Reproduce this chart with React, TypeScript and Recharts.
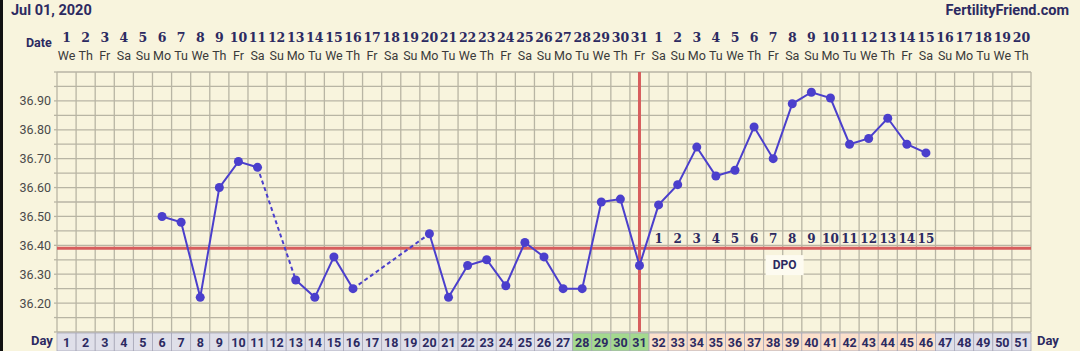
import { ComposedChart, Line, XAxis, YAxis, CartesianGrid, ReferenceLine, ReferenceDot } from 'recharts'

// cycle days shown on the chart
const cycleDays = [
  1, 2, 3, 4, 5, 6, 7, 8, 9, 10, 11, 12, 13, 14, 15, 16, 17, 18, 19, 20, 21, 22, 23, 24, 25, 26,
  27, 28, 29, 30, 31, 32, 33, 34, 35, 36, 37, 38, 39, 40, 41, 42, 43, 44, 45, 46, 47, 48, 49, 50, 51,
]

// calendar date for each cycle day (Jul 1 .. Aug 20)
const dateLabels = [
  '1', '2', '3', '4', '5', '6', '7', '8', '9', '10', '11', '12', '13', '14', '15', '16', '17', '18',
  '19', '20', '21', '22', '23', '24', '25', '26', '27', '28', '29', '30', '31', '1', '2', '3', '4',
  '5', '6', '7', '8', '9', '10', '11', '12', '13', '14', '15', '16', '17', '18', '19', '20',
]

const weekdays = ['We', 'Th', 'Fr', 'Sa', 'Su', 'Mo', 'Tu']

// BBT readings, null = no temp recorded
const temps: (number | null)[] = [
  null, null, null, null, null,
  36.5, 36.48, 36.22, 36.6, 36.69, 36.67,
  null,
  36.28, 36.22, 36.36, 36.25,
  null, null, null,
  36.44, 36.22, 36.33, 36.35, 36.26, 36.41, 36.36, 36.25, 36.25, 36.55, 36.56, 36.33,
  36.54, 36.61, 36.74, 36.64, 36.66, 36.81, 36.7, 36.89, 36.93, 36.91, 36.75, 36.77, 36.84, 36.75, 36.72,
  null, null, null, null, null,
]

// gaps bridged with a dashed line
const gaps = [
  [11, 13],
  [16, 20],
]

const fertileDays = [28, 29, 30, 31]
const lutealDays = [32, 33, 34, 35, 36, 37, 38, 39, 40, 41, 42, 43, 44, 45, 46]
const dpoLabels = ['1', '2', '3', '4', '5', '6', '7', '8', '9', '10', '11', '12', '13', '14', '15']

const coverline = 36.39
const ovulationDay = 31

const yGridTicks = [
  36.1, 36.15, 36.2, 36.25, 36.3, 36.35, 36.4, 36.45, 36.5, 36.55, 36.6, 36.65, 36.7, 36.75, 36.8,
  36.85, 36.9, 36.95, 37.0,
]
const yLabelTicks = [36.2, 36.3, 36.4, 36.5, 36.6, 36.7, 36.8, 36.9]

const data = cycleDays.map((day, i) => {
  const row: Record<string, number | null> = { day, temp: temps[i] }
  gaps.forEach(([a, b], g) => {
    row['gap' + g] = day === a || day === b ? temps[i] : null
  })
  return row
})

// column borders sit half a day either side of each day
const gridX = [0.5, ...cycleDays.map((d) => d + 0.5)]

const W = 1080
const H = 351
const CELL = 974 / 51
const NAVY = '#2c2a61'
const PURPLE = '#4b3fcc'
const RED = '#d75e5e'
const CREAM = '#f8f4dd'
const GRID = '#b8b5a4'

function fmtTemp(v: number) {
  const hit = yLabelTicks.some((t) => Math.abs(t - v) < 0.001)
  return hit ? v.toFixed(2) : ''
}

function DateTick({ x, payload }: any) {
  const i = payload.value - 1
  return (
    <g>
      <text x={x} y={42} textAnchor="middle" fontFamily="DejaVu Serif" fontWeight="bold" fontSize={12.5} fill={NAVY}>
        {dateLabels[i]}
      </text>
      <text x={x} y={59.5} textAnchor="middle" fontFamily="Roboto" fontSize={12.5} fill="#3a3a3a">
        {weekdays[i % 7]}
      </text>
    </g>
  )
}

function cellColor(d: number) {
  if (fertileDays.includes(d)) return '#a4d98f'
  if (lutealDays.includes(d)) return '#fbe0cb'
  return '#dfdfe9'
}

function DayTick({ x, payload }: any) {
  const d = payload.value
  return (
    <g>
      <rect x={x - CELL / 2} y={333} width={CELL} height={18} fill={cellColor(d)} stroke="#a7a7b8" strokeWidth={0.8} />
      <text x={x} y={347} textAnchor="middle" fontFamily="Roboto" fontWeight="bold" fontSize={12.5} fill={NAVY}>
        {d}
      </text>
    </g>
  )
}

function TempDot({ cx, cy, value }: any) {
  if (value == null || cx == null || cy == null) return null
  return <circle cx={cx} cy={cy} r={4.5} fill={PURPLE} />
}

export default function App() {
  return (
    <div style={{ position: 'fixed', left: 0, top: 0, width: W, height: H, background: CREAM, overflow: 'hidden' }}>
      <div style={{ position: 'absolute', left: 0, top: 0, width: 3, height: H, background: '#111' }} />
      <div style={{ position: 'absolute', left: 11, top: 2, font: 'bold 14.5px Roboto', color: NAVY }}>Jul 01, 2020</div>
      <div style={{ position: 'absolute', right: 11, top: 2, font: 'bold 14.5px Roboto', color: NAVY }}>
        FertilityFriend.com
      </div>
      <div style={{ position: 'absolute', left: 26, top: 35, font: 'bold 12.5px Roboto', color: NAVY }}>Date</div>
      <div style={{ position: 'absolute', left: 31, top: 333, font: 'bold 13px Roboto', color: NAVY }}>Day</div>
      <div style={{ position: 'absolute', left: 1037, top: 333, font: 'bold 13px Roboto', color: NAVY }}>Day</div>
      <ComposedChart width={W} height={H} data={data} margin={{ top: 0, right: 0, bottom: 0, left: 0 }}>
        <XAxis
          xAxisId={0}
          dataKey="day"
          type="number"
          domain={[0.5, 51.5]}
          ticks={gridX}
          interval={0}
          tick={false}
          axisLine={false}
          tickLine={false}
          height={0}
        />
        <XAxis
          xAxisId="top"
          dataKey="day"
          orientation="top"
          type="number"
          domain={[0.5, 51.5]}
          ticks={cycleDays}
          interval={0}
          tick={<DateTick />}
          axisLine={false}
          tickLine={false}
          height={72}
        />
        <XAxis
          xAxisId="bottom"
          dataKey="day"
          type="number"
          domain={[0.5, 51.5]}
          ticks={cycleDays}
          interval={0}
          tick={<DayTick />}
          axisLine={false}
          tickLine={false}
          height={19}
        />
        <YAxis
          yAxisId={0}
          type="number"
          domain={[36.1, 37.0]}
          ticks={yGridTicks}
          interval={0}
          tickFormatter={fmtTemp}
          tick={{ fontSize: 12.5, fill: '#4a4a4a', fontFamily: 'Roboto' }}
          axisLine={false}
          tickLine={{ stroke: GRID, strokeWidth: 1.3 }}
          tickSize={3}
          tickMargin={3}
          width={57}
        />
        <YAxis
          yAxisId="right"
          orientation="right"
          type="number"
          domain={[36.1, 37.0]}
          ticks={yGridTicks}
          interval={0}
          tickFormatter={fmtTemp}
          tick={{ fontSize: 12.5, fill: '#4a4a4a', fontFamily: 'Roboto' }}
          axisLine={false}
          tickLine={false}
          tickSize={0}
          tickMargin={6}
          width={49}
        />
        <CartesianGrid stroke={GRID} strokeWidth={1.3} fill={CREAM} vertical={false} />
        {gridX.map((v) => (
          <ReferenceLine key={v} x={v} stroke={GRID} strokeWidth={1.3} />
        ))}
        <ReferenceLine y={coverline} stroke={RED} strokeWidth={3} />
        <ReferenceLine x={ovulationDay} stroke={RED} strokeWidth={3} />
        {dpoLabels.map((n, i) => (
          <ReferenceDot
            key={n}
            x={lutealDays[i]}
            y={36.425}
            r={0}
            shape={(p: any) => (
              <text x={p.cx} y={p.cy + 4.5} textAnchor="middle" fontFamily="DejaVu Serif" fontWeight="bold" fontSize={12} fill={NAVY}>
                {n}
              </text>
            )}
          />
        ))}
        <ReferenceDot
          x={38.6}
          y={36.335}
          r={0}
          shape={(p: any) => (
            <g>
              <rect x={p.cx - 19} y={p.cy - 9} width={38} height={20} fill="#fdfbf0" />
              <text x={p.cx} y={p.cy + 5} textAnchor="middle" fontFamily="Roboto" fontWeight="bold" fontSize={12} fill={NAVY}>
                DPO
              </text>
            </g>
          )}
        />
        {gaps.map((_, g) => (
          <Line
            key={g}
            dataKey={'gap' + g}
            stroke={PURPLE}
            strokeWidth={2}
            strokeDasharray="4 3"
            connectNulls
            dot={false}
            activeDot={false}
            isAnimationActive={false}
          />
        ))}
        <Line
          dataKey="temp"
          stroke={PURPLE}
          strokeWidth={2}
          dot={<TempDot />}
          activeDot={false}
          connectNulls={false}
          isAnimationActive={false}
        />
      </ComposedChart>
    </div>
  )
}
